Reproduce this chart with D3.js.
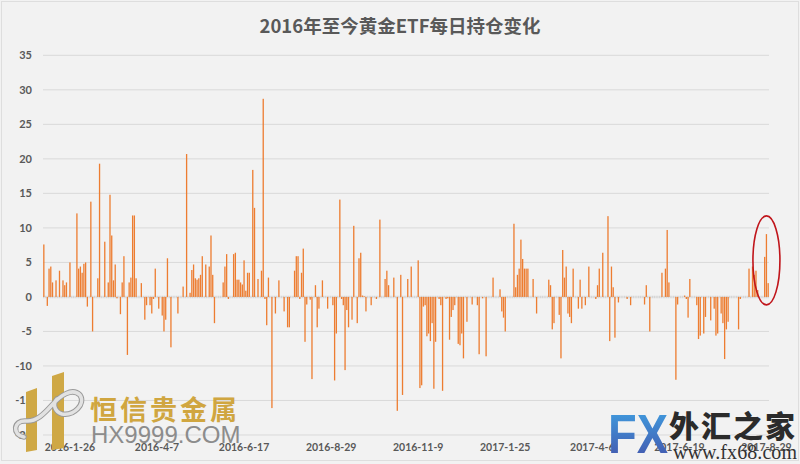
<!DOCTYPE html>
<html><head><meta charset="utf-8">
<script src="https://cdn.jsdelivr.net/npm/d3@7"></script>
<style>html,body{margin:0;padding:0;background:#f2f2f2;}svg{display:block;}</style>
</head><body>
<svg id="chart" width="800" height="464"></svg>
<script>
const title = "2016年至今黄金ETF每日持仓变化";
// daily change of gold ETF holdings (tonnes), one value per trading day
const values = [
 7.6,0,-1.3,4.1,4.4,2.1,0,2.4,0,3.8,0,2.4,1.7,2.1,0,5.0,0,0,0,12.1,
 4.1,4.4,3.5,4.8,5.0,-1.4,0,13.8,-5.0,0,0,2.7,19.3,0,0,8.0,0,2.1,14.8,8.9,
 2.4,4.7,-0.2,0,-2.5,2.1,5.9,0,-8.4,2.1,2.8,11.8,11.8,2.7,0,0,2.0,0,-3.3,-1.2,
 0,-1.2,-2.4,-0.3,4.1,0,-1.7,0,-2.7,-5.0,-3.3,5.6,0,-7.3,0,0,0,-2.4,0,0,
 1.5,0,20.7,0,0.6,3.9,4.7,2.7,2.5,2.7,3.2,5.9,0,4.7,0,4.4,8.9,3.2,-3.8,0,
 0,0,0,2.1,4.4,6.2,-0.3,0,0,6.2,6.4,2.5,2.5,2.1,1.8,5.3,0.9,3.5,3.5,0,
 18.4,12.9,0,2.6,0,3.8,28.7,-0.3,-4.1,2.8,0,-16.1,0,-2.4,0,2.4,0,0,-2.1,0,
 -4.4,-4.4,0,0,3.8,5.9,5.9,-0.3,3.5,7.0,-6.5,-1.1,0,-0.4,-11.9,0,1.7,-4.4,-1.7,0,
 2.4,0,0,-1.7,0,0,-1.2,-12.1,-5.3,0,14.1,-0.3,-1.2,-10.6,-1.9,-4.4,0,-3.3,10.3,0,
 -3.8,5.6,6.4,0.2,0.1,-2.1,0,0,-1.2,0,0,-0.3,0,11.2,0,0,2.6,3.8,1.7,0,
 0,2.8,0,-16.5,0,3.2,-14.2,0,0,2.6,0,4.4,0,0,0,5.3,-13.2,-12.8,-1.4,-1.2,
 -5.7,-5.3,-6.4,-3.8,-13.3,-6.5,0,-0.3,-1.2,-13.6,0,-0.3,-0.2,-6.2,-2.9,-1.9,-1.2,0,-6.8,-7.0,
 -5.3,-8.9,0,-3.6,0,0,-1.1,0,0,-1.2,-8.3,0,-0.2,0,-8.6,0,0,0,2.8,0,
 0,0,1.1,-2.1,-3.0,-5.0,0,0,0,0,10.6,1.4,3.2,4.1,8.3,5.5,4.1,4.1,4.1,0,
 0,2.6,0,-2.4,0,0,0,0,0,0,2.5,1.7,-4.7,-3.8,0,0,-2.6,-8.9,6.8,2.8,
 4.4,-2.4,-2.9,-3.8,4.1,0,0,-1.7,2.5,-1.7,0,-1.2,0,4.4,0,0,0,-0.3,1.7,4.1,
 0,6.4,0,0,11.7,-6.4,4.4,1.4,-5.9,0,-0.8,0,0,0,0,-0.3,0,-1.2,0,0,
 0,0,0,0,0,-1.1,1.7,0,-5.0,0,0,0,0,0,0,3.5,0,4.1,9.7,2.1,
 0,0,0,-12.0,-1.1,0,0,0,0.2,-0.3,-3.0,2.6,0,0,0,-1.2,-6.1,-5.6,0,-5.3,
 -2.9,0,0,-3.4,0,-1.7,-5.6,-5.3,0,-2.4,-3.8,-9.0,-4.7,-3.6,0,0,0,0,0,-4.7,
 -0.3,0,0,0,0,4.1,0,4.4,3.2,3.8,1.0,0,0,0,5.8,9.1,2.0
];
const tickLabels = ["2016-1-26","2016-4-7","2016-6-17","2016-8-29","2016-11-9","2017-1-25","2017-4-6","2017-6-19","2017-8-29"];
const tickIndex  = [15,65,115,165,215,265,315,365,415];
const yTicks = [35,30,25,20,15,10,5,0,-5,-10,-15,-20];
const highlightIndex = [414,415,416];

const svg = d3.select("#chart");
const W = 800, H = 464;
svg.append("rect").attr("x",0).attr("y",0).attr("width",W).attr("height",H).attr("fill","#f2f2f2");
svg.append("rect").attr("x",1.5).attr("y",1.5).attr("width",W-3).attr("height",H-5)
  .attr("fill","none").attr("stroke","#dedede").attr("stroke-width",1);

const x = d3.scaleBand().domain(d3.range(values.length)).range([43,769]).paddingInner(0.25).paddingOuter(0.1);
const y = d3.scaleLinear().domain([-20,35]).range([435,55.3]);

// gridlines
svg.append("g").selectAll("line").data(yTicks.filter(d=>d!==0)).join("line")
  .attr("x1",43).attr("x2",769).attr("y1",d=>y(d)).attr("y2",d=>y(d))
  .attr("stroke","#d9d9d9").attr("stroke-width",1);

// y axis labels
svg.append("g").selectAll("text").data(yTicks).join("text")
  .attr("x",32).attr("y",d=>y(d)).attr("dy","0.35em").attr("text-anchor","end")
  .attr("font-family","Lato, 'Open Sans', sans-serif").attr("font-weight","bold")
  .attr("font-size",11).attr("fill","#595959").text(d=>d);

// zero axis band
svg.append("line").attr("x1",43).attr("x2",769).attr("y1",y(0)).attr("y2",y(0))
  .attr("stroke","#d6d6d6").attr("stroke-width",2.5).attr("stroke-dasharray","1.3,0.45");

// bars
svg.append("g").selectAll("rect").data(values.map((v,i)=>({i,v}))).join("rect")
  .attr("x",d=>x(d.i)).attr("width",x.bandwidth())
  .attr("y",d=>y(Math.max(0,d.v))).attr("height",d=>Math.abs(y(d.v)-y(0)))
  .attr("fill","#ED7D31");

// x labels
svg.append("g").selectAll("text").data(tickLabels).join("text")
  .attr("x",(d,i)=>x(tickIndex[i])+x.bandwidth()/2).attr("y",447).attr("dy","0.35em")
  .attr("text-anchor","middle").attr("font-family","Lato, 'Open Sans', sans-serif")
  .attr("font-weight","bold").attr("font-size",10.5).attr("fill","#595959").text(d=>d);

// title
svg.append("text").attr("x",400).attr("y",27).attr("dy","0.35em").attr("text-anchor","middle")
  .attr("font-family","'Noto Sans CJK SC', sans-serif").attr("font-weight","bold")
  .attr("font-size",18.5).attr("fill","#595959").text(title);

// highlight ellipse
const hx = d3.mean(highlightIndex, i=>x(i)+x.bandwidth()/2);
svg.append("ellipse").attr("cx",hx).attr("cy",y(5)-2).attr("rx",13.5).attr("ry",44.5)
  .attr("fill","none").attr("stroke","#c0151b").attr("stroke-width",1.6);

// watermark left
const wl = svg.append("g");
wl.append("path").attr("d","M26,392 L37,388 L37,450 L26,452 Z").attr("fill","#cfa845");
wl.append("path").attr("d","M52,376 L64,372 L64,448 L52,450 Z").attr("fill","#cfa845");
wl.append("path").attr("d","M24,437 C12,435 13,420 26,421 C36,422 44,414 52,405 C60,396 72,387 80,395 C86,404 74,416 62,414 C55,412 52,404 57,399")
  .attr("fill","none").attr("stroke","#9a9a9a").attr("stroke-width",5.5).attr("stroke-linecap","round");
wl.append("path").attr("d","M24,437 C12,435 13,420 26,421 C36,422 44,414 52,405 C60,396 72,387 80,395 C86,404 74,416 62,414 C55,412 52,404 57,399")
  .attr("fill","none").attr("stroke","#e2e2e2").attr("stroke-width",3.5).attr("stroke-linecap","round");
wl.append("text").attr("x",90).attr("y",420).attr("font-family","'Noto Sans CJK SC', sans-serif")
  .attr("font-weight","bold").attr("font-size",27).attr("letter-spacing",3).attr("fill","#d0a640").text("恒信贵金属");
wl.append("text").attr("x",91).attr("y",443).attr("font-family","'Liberation Sans', Arial, sans-serif")
  .attr("font-size",24).attr("fill","#8c8c8c").text("HX9999.COM");

// watermark right
const defs = svg.append("defs");
const gr = defs.append("linearGradient").attr("id","fxg").attr("x1",0).attr("y1",0).attr("x2",0).attr("y2",1);
gr.append("stop").attr("offset","0%").attr("stop-color","#3fa6e6");
gr.append("stop").attr("offset","100%").attr("stop-color","#4450a8");
const wr = svg.append("g");
wr.append("text").attr("x",608).attr("y",453).attr("font-family","'Liberation Sans', Arial, sans-serif")
  .attr("font-weight","bold").attr("font-size",56).attr("textLength",60).attr("lengthAdjust","spacingAndGlyphs")
  .attr("fill","url(#fxg)").text("FX");
wr.append("text").attr("x",669).attr("y",437).attr("font-family","'Noto Sans CJK SC', sans-serif")
  .attr("font-weight","900").attr("font-size",30).attr("letter-spacing",2).attr("fill","#2b2b2b").text("外汇之家");
wr.append("text").attr("x",673).attr("y",459).attr("font-family","'Liberation Serif', serif")
  .attr("font-size",20).attr("textLength",124).attr("fill","#333").text("www.fx68.com");
</script>
</body></html>
